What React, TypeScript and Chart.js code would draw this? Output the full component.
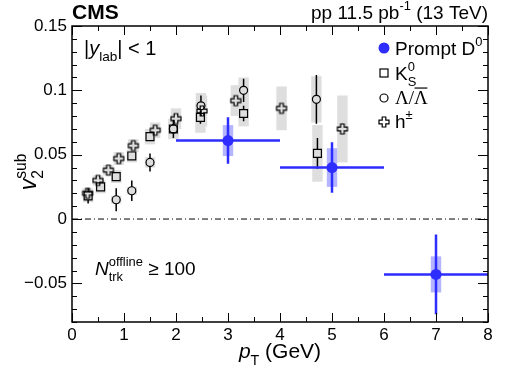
import React, { useEffect, useRef } from 'react';
import { Chart, registerables } from 'chart.js';
Chart.register(...registerables);

const FONT = '"Liberation Sans", Arial, Helvetica, sans-serif';
const SERIF = '"Liberation Serif", "Times New Roman", serif';

// axis ticks
const xTickValues = [0, 1, 2, 3, 4, 5, 6, 7, 8];
const yTickValues = [-0.05, 0, 0.05, 0.1, 0.15];

// Prompt D0
const d0Pt = [3, 5, 7];
const d0PtErr = [1, 1, 1];
const d0V2 = [0.061, 0.040, -0.043];
const d0Stat = [0.018, 0.0196, 0.031];
const d0Syst = [0.012, 0.015, 0.014];

// K0S
const ksPt = [0.31, 0.55, 0.85, 1.15, 1.5, 1.95, 2.47, 3.3, 4.72];
const ksV2 = [0.018, 0.025, 0.033, 0.049, 0.064, 0.070, 0.079, 0.082, 0.051];
const ksStat = [0.006, 0.003, 0.003, 0.003, 0.003, 0.004, 0.005, 0.006, 0.012];
const ksSyst = [0.005, 0.005, 0.005, 0.005, 0.006, 0.008, 0.012, 0.010, 0.022];

// Lambda / anti-Lambda
const lamPt = [0.85, 1.15, 1.5, 1.95, 2.48, 3.3, 4.7];
const lamV2 = [0.015, 0.022, 0.044, 0.070, 0.088, 0.100, 0.093];
const lamStat = [0.009, 0.008, 0.007, 0.007, 0.008, 0.009, 0.019];
const lamSyst = [0.003, 0.003, 0.004, 0.006, 0.010, 0.010, 0.018];

// charged hadrons
const hPt = [0.3, 0.5, 0.7, 0.9, 1.18, 1.6, 2.0, 2.5, 3.15, 4.03, 5.2];
const hV2 = [0.020, 0.030, 0.038, 0.047, 0.057, 0.069, 0.078, 0.084, 0.092, 0.086, 0.070];
const hStat = [0.001, 0.001, 0.001, 0.001, 0.001, 0.001, 0.001, 0.002, 0.002, 0.003, 0.004];
const hSyst = [0.004, 0.004, 0.004, 0.005, 0.005, 0.006, 0.008, 0.012, 0.012, 0.017, 0.026];

const BLUE = 'rgb(45,45,255)';
const BLUE_BOX = '#b5b5ff';
const GREY_BOX = '#dedede';
const BOX_HW = 0.1;

type Part = { t: string; i?: boolean; b?: boolean; sub?: boolean; sup?: boolean; over?: boolean; bar?: boolean; serif?: boolean };

function fontFor(p: Part, size: number) {
  const s = p.sub || p.sup ? size * 0.68 : size;
  return `${p.i ? 'italic ' : ''}${p.b ? 'bold ' : ''}${s}px ${p.serif ? SERIF : FONT}`;
}

function layoutRich(ctx: CanvasRenderingContext2D, parts: Part[], size: number) {
  let cx = 0, prevStart = 0, prevEnd = 0;
  const pos: number[] = [];
  for (const p of parts) {
    ctx.font = fontFor(p, size);
    const w = ctx.measureText(p.t).width;
    const start = p.over ? prevStart : cx;
    const end = start + w;
    pos.push(start);
    if (p.over) {
      prevEnd = Math.max(prevEnd, end);
      cx = prevEnd;
    } else {
      prevStart = start;
      prevEnd = end;
      cx = end;
    }
  }
  return { pos, width: cx };
}

function drawRich(ctx: CanvasRenderingContext2D, parts: Part[], x: number, y: number, size: number,
  align: 'left' | 'right' | 'center' = 'left', rotate = 0) {
  ctx.save();
  ctx.translate(x, y);
  if (rotate) ctx.rotate(rotate);
  const { pos, width } = layoutRich(ctx, parts, size);
  const off = align === 'left' ? 0 : align === 'right' ? -width : -width / 2;
  ctx.textAlign = 'left';
  ctx.textBaseline = 'alphabetic';
  ctx.fillStyle = '#000';
  parts.forEach((p, k) => {
    ctx.font = fontFor(p, size);
    const dy = p.sub ? size * 0.32 : p.sup ? -size * 0.45 : 0;
    const px = off + pos[k];
    ctx.fillText(p.t, px, dy);
    if (p.bar) {
      const w = ctx.measureText(p.t).width;
      ctx.strokeStyle = '#000';
      ctx.lineWidth = 1.2;
      ctx.beginPath();
      ctx.moveTo(px + 0.5, dy - size * 0.84);
      ctx.lineTo(px + w - 0.5, dy - size * 0.84);
      ctx.stroke();
    }
  });
  ctx.restore();
}

function plusPath(ctx: CanvasRenderingContext2D, cx: number, cy: number, L = 5, a = 1.8) {
  ctx.beginPath();
  ctx.moveTo(cx - a, cy - L);
  ctx.lineTo(cx + a, cy - L);
  ctx.lineTo(cx + a, cy - a);
  ctx.lineTo(cx + L, cy - a);
  ctx.lineTo(cx + L, cy + a);
  ctx.lineTo(cx + a, cy + a);
  ctx.lineTo(cx + a, cy + L);
  ctx.lineTo(cx - a, cy + L);
  ctx.lineTo(cx - a, cy + a);
  ctx.lineTo(cx - L, cy + a);
  ctx.lineTo(cx - L, cy - a);
  ctx.lineTo(cx - a, cy - a);
  ctx.closePath();
}

function makePlusCanvas() {
  const c = document.createElement('canvas');
  c.width = 14;
  c.height = 14;
  const g = c.getContext('2d')!;
  g.strokeStyle = '#000';
  g.lineWidth = 1.2;
  plusPath(g, 7, 7);
  g.stroke();
  return c;
}

const hepPlugin = {
  id: 'hep',
  beforeDatasetsDraw(chart: any) {
    const { ctx, chartArea: a, scales } = chart;
    const x = scales.x, y = scales.y;
    ctx.save();
    ctx.beginPath();
    ctx.rect(a.left, a.top, a.right - a.left, a.bottom - a.top);
    ctx.clip();

    // zero line
    const y0 = y.getPixelForValue(0);
    ctx.strokeStyle = '#000';
    ctx.lineWidth = 1;
    ctx.setLineDash([6, 3, 1, 3]);
    ctx.beginPath();
    ctx.moveTo(a.left, y0);
    ctx.lineTo(a.right, y0);
    ctx.stroke();
    ctx.setLineDash([]);

    const box = (px: number, py: number, s: number, color: string) => {
      const l = x.getPixelForValue(px - BOX_HW), r = x.getPixelForValue(px + BOX_HW);
      const t = y.getPixelForValue(py + s), b = y.getPixelForValue(py - s);
      ctx.fillStyle = color;
      ctx.fillRect(l, t, r - l, b - t);
    };
    ksPt.forEach((p, k) => box(p, ksV2[k], ksSyst[k], GREY_BOX));
    lamPt.forEach((p, k) => box(p, lamV2[k], lamSyst[k], GREY_BOX));
    hPt.forEach((p, k) => box(p, hV2[k], hSyst[k], GREY_BOX));
    d0Pt.forEach((p, k) => box(p, d0V2[k], d0Syst[k], BLUE_BOX));

    // stat bars with gap at marker
    const vbar = (px: number, py: number, s: number, gap: number) => {
      const cx = x.getPixelForValue(px), cy = y.getPixelForValue(py);
      const t = y.getPixelForValue(py + s), b = y.getPixelForValue(py - s);
      ctx.strokeStyle = '#000';
      ctx.lineWidth = 1.5;
      ctx.beginPath();
      if (cy - t > gap) { ctx.moveTo(cx, t); ctx.lineTo(cx, cy - gap); }
      if (b - cy > gap) { ctx.moveTo(cx, cy + gap); ctx.lineTo(cx, b); }
      ctx.stroke();
    };
    ksPt.forEach((p, k) => vbar(p, ksV2[k], ksStat[k], 4));
    lamPt.forEach((p, k) => vbar(p, lamV2[k], lamStat[k], 4));
    hPt.forEach((p, k) => vbar(p, hV2[k], hStat[k], 5));

    // D0 error bars
    ctx.strokeStyle = BLUE;
    ctx.lineWidth = 2.5;
    d0Pt.forEach((p, k) => {
      const cx = x.getPixelForValue(p), cy = y.getPixelForValue(d0V2[k]);
      ctx.beginPath();
      ctx.moveTo(x.getPixelForValue(p - d0PtErr[k]), cy);
      ctx.lineTo(x.getPixelForValue(p + d0PtErr[k]), cy);
      ctx.moveTo(cx, y.getPixelForValue(d0V2[k] + d0Stat[k]));
      ctx.lineTo(cx, y.getPixelForValue(d0V2[k] - d0Stat[k]));
      ctx.stroke();
    });
    ctx.restore();
  },
  afterDraw(chart: any) {
    const { ctx, chartArea: a, scales } = chart;
    const x = scales.x, y = scales.y;
    ctx.save();
    // frame
    ctx.strokeStyle = '#000';
    ctx.lineWidth = 1.5;
    ctx.strokeRect(a.left, a.top, a.right - a.left, a.bottom - a.top);
    // ticks
    ctx.lineWidth = 1;
    ctx.beginPath();
    for (let v = 0; v <= 8.001; v += 0.5) {
      const px = Math.round(x.getPixelForValue(v)) + 0.5;
      const major = Math.abs(v - Math.round(v)) < 1e-6;
      const L = major ? 9 : 5;
      ctx.moveTo(px, a.bottom); ctx.lineTo(px, a.bottom - L);
      ctx.moveTo(px, a.top); ctx.lineTo(px, a.top + L);
    }
    for (let i = -8; i <= 15; i++) {
      const v = i / 100;
      const py = Math.round(y.getPixelForValue(v)) + 0.5;
      const major = i % 5 === 0;
      const L = major ? 10 : 5;
      ctx.moveTo(a.left, py); ctx.lineTo(a.left + L, py);
      ctx.moveTo(a.right, py); ctx.lineTo(a.right - L, py);
    }
    ctx.stroke();

    // header texts
    drawRich(ctx, [{ t: 'CMS', b: true }], a.left, 19, 21);
    drawRich(ctx, [{ t: 'pp 11.5 pb' }, { t: '-1', sup: true }, { t: ' (13 TeV)' }], a.right, 19, 19, 'right');

    // annotations
    drawRich(ctx, [{ t: '|' }, { t: 'y', i: true }, { t: 'lab', sub: true }, { t: '| < 1' }], 84, 55, 20);
    drawRich(ctx, [{ t: 'N', i: true }, { t: 'trk', sub: true }, { t: 'offline', sup: true, over: true }, { t: ' \u2265 100' }], 95, 275, 19);

    // axis titles
    drawRich(ctx, [{ t: 'p', i: true }, { t: 'T', sub: true }, { t: ' (GeV)' }], 280, 358, 21, 'center');
    drawRich(ctx, [{ t: 'v', i: true }, { t: '2', sub: true }, { t: 'sub', sup: true, over: true }], 36, (a.top + a.bottom) / 2 - 2, 23, 'center', -Math.PI / 2);

    // legend
    const lx = 384, tx = 395;
    ctx.fillStyle = BLUE;
    ctx.beginPath(); ctx.arc(lx, 48, 5.5, 0, Math.PI * 2); ctx.fill();
    drawRich(ctx, [{ t: 'Prompt D' }, { t: '0', sup: true }], tx, 55, 19);
    ctx.strokeStyle = '#000';
    ctx.lineWidth = 1.2;
    ctx.strokeRect(lx - 4, 73 - 4, 8, 8);
    drawRich(ctx, [{ t: 'K' }, { t: 'S', sub: true }, { t: '0', sup: true, over: true }], tx, 80, 19);
    ctx.beginPath(); ctx.arc(lx, 98, 4, 0, Math.PI * 2); ctx.stroke();
    drawRich(ctx, [{ t: '\u039B/', serif: true }, { t: '\u039B', bar: true, serif: true }], tx, 104, 19);
    plusPath(ctx, lx, 122);
    ctx.stroke();
    drawRich(ctx, [{ t: 'h' }, { t: '\u00B1', sup: true }], tx, 128, 19);
    ctx.restore();
  },
};

function fmtY(v: number) {
  if (Math.abs(v) < 1e-9) return '0';
  const s = String(Math.round(Math.abs(v) * 1000) / 1000);
  return v < 0 ? '\u2212' + s : s;
}

export default function App() {
  const ref = useRef<HTMLCanvasElement>(null);
  useEffect(() => {
    if (!ref.current) return;
    const plusImg = makePlusCanvas();
    const chart = new Chart(ref.current, {
      type: 'scatter',
      data: {
        datasets: [
          {
            label: 'Prompt D0',
            data: d0Pt.map((p, k) => ({ x: p, y: d0V2[k] })),
            pointStyle: 'circle',
            pointRadius: 5.5,
            backgroundColor: BLUE,
            borderColor: BLUE,
            borderWidth: 0,
          },
          {
            label: 'K0S',
            data: ksPt.map((p, k) => ({ x: p, y: ksV2[k] })),
            pointStyle: 'rect',
            pointRadius: 5.6,
            backgroundColor: 'rgba(0,0,0,0)',
            borderColor: '#000',
            borderWidth: 1.2,
          },
          {
            label: 'Lambda',
            data: lamPt.map((p, k) => ({ x: p, y: lamV2[k] })),
            pointStyle: 'circle',
            pointRadius: 4,
            backgroundColor: 'rgba(0,0,0,0)',
            borderColor: '#000',
            borderWidth: 1.2,
          },
          {
            label: 'h',
            data: hPt.map((p, k) => ({ x: p, y: hV2[k] })),
            pointStyle: plusImg as any,
            pointRadius: 5,
            backgroundColor: 'rgba(0,0,0,0)',
            borderColor: '#000',
          },
        ],
      },
      options: {
        animation: false,
        responsive: false,
        maintainAspectRatio: false,
        layout: { padding: { left: 0, right: 32, top: 26, bottom: 0 } },
        plugins: { legend: { display: false }, tooltip: { enabled: false } },
        scales: {
          x: {
            type: 'linear',
            min: 0,
            max: 8,
            grid: { display: false, drawTicks: false },
            border: { display: false },
            ticks: { font: { family: FONT, size: 17 }, color: '#000', padding: 3, maxRotation: 0, autoSkip: false },
            afterBuildTicks: (s: any) => { s.ticks = xTickValues.map((v) => ({ value: v })); },
            afterFit: (s: any) => { s.height = 51; },
          },
          y: {
            type: 'linear',
            min: -0.08,
            max: 0.15,
            grid: { display: false, drawTicks: false },
            border: { display: false },
            ticks: {
              font: { family: FONT, size: 17 },
              color: '#000',
              padding: 5,
              autoSkip: false,
              callback: (v: any) => fmtY(Number(v)),
            },
            afterBuildTicks: (s: any) => { s.ticks = yTickValues.map((v) => ({ value: v })); },
            afterFit: (s: any) => { s.width = 72; },
          },
        },
      },
      plugins: [hepPlugin],
    } as any);
    return () => chart.destroy();
  }, []);
  return (
    <div style={{ position: 'absolute', left: 0, top: 0, width: 520, height: 373, background: '#fff' }}>
      <canvas ref={ref} width={520} height={373} style={{ display: 'block' }} />
    </div>
  );
}
